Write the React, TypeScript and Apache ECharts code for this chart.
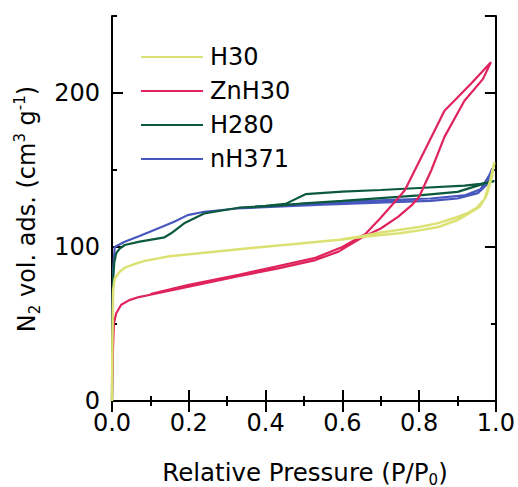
import React, { useEffect, useRef } from "react";
import * as echarts from "echarts";

// ---- Data ----
const H30_ADS_P = [0, 0.001, 0.003, 0.007, 0.02, 0.035, 0.055, 0.085, 0.15, 0.24, 0.35, 0.49, 0.6, 0.65, 0.7, 0.75, 0.8, 0.85, 0.9, 0.93, 0.957, 0.975, 0.99, 0.996];
const H30_ADS_V = [0, 40, 72, 79.5, 84, 86.8, 88.6, 91, 94, 96.3, 99, 102.3, 104.8, 106.5, 107.8, 109, 110.8, 113, 117.5, 121.8, 126, 133, 146, 155];
const H30_DES_P = [0.996, 0.985, 0.97, 0.95, 0.93, 0.9, 0.85, 0.8, 0.75, 0.7, 0.65, 0.6];
const H30_DES_V = [155, 143, 131, 125.5, 122.5, 119.5, 115.5, 113, 111.2, 109.5, 107, 105];

const ZNH30_ADS_P = [0, 0.002, 0.005, 0.011, 0.024, 0.045, 0.07, 0.1, 0.2, 0.33, 0.43, 0.53, 0.59, 0.65, 0.7, 0.745, 0.78, 0.8, 0.832, 0.866, 0.918, 0.966, 0.987];
const ZNH30_ADS_V = [0, 30, 50.5, 57, 62.5, 65.5, 67.5, 69, 74.3, 81, 86, 91.5, 97, 106, 112, 119.6, 127, 132.6, 150, 171.5, 195, 209, 220];
const ZNH30_DES_P = [0.987, 0.935, 0.866, 0.819, 0.763, 0.745, 0.7, 0.66, 0.6, 0.53, 0.43, 0.33, 0.2, 0.1];
const ZNH30_DES_V = [220, 206, 188.5, 165, 137, 131.6, 119, 108.5, 100, 93, 87.5, 82, 75.5, 69.5];

const H280_ADS_P = [0, 0.001, 0.003, 0.006, 0.011, 0.02, 0.033, 0.072, 0.137, 0.154, 0.188, 0.24, 0.33, 0.443, 0.5, 0.6, 0.7, 0.8, 0.9, 0.961, 0.987, 0.996];
const H280_ADS_V = [0, 50, 80, 90, 96, 99, 101.3, 103.5, 106.3, 108.9, 115.4, 121.8, 125.5, 127, 128.3, 130, 131.8, 133.5, 135.8, 140.5, 142.5, 142.8];
const H280_DES_P = [0.996, 0.96, 0.918, 0.8, 0.7, 0.6, 0.504, 0.452, 0.4, 0.33];
const H280_DES_V = [142.8, 141, 139.8, 138.3, 137, 136, 134.3, 128, 126.7, 125.5];

const NH371_ADS_P = [0, 0.001, 0.003, 0.007, 0.033, 0.07, 0.11, 0.162, 0.197, 0.24, 0.326, 0.443, 0.55, 0.659, 0.75, 0.83, 0.9, 0.953, 0.978, 0.991];
const NH371_ADS_V = [0, 50, 85, 100, 103.4, 107, 111, 116.4, 120.7, 122.9, 125, 126.3, 127.5, 128.5, 129.3, 130, 131.5, 135, 141, 151];
const NH371_DES_P = [0.991, 0.983, 0.96, 0.918, 0.83, 0.7, 0.6, 0.5, 0.4, 0.33];
const NH371_DES_V = [151, 146.7, 137.5, 133.5, 131.5, 130.3, 129.3, 128, 126.5, 125.5];

const SERIES_NAMES = ["H30", "ZnH30", "H280", "nH371"];
const X_TICKS = [0, 0.2, 0.4, 0.6, 0.8, 1.0];
const Y_TICKS = [0, 100, 200];

const COLORS: Record<string, string> = {
  H30: "#dbe273",
  ZnH30: "#e0235c",
  H280: "#0c5a3e",
  nH371: "#4757bd",
};

const FONT = "'DejaVu Sans', 'Liberation Sans', Arial, sans-serif";

function loop(ap: number[], av: number[], dp: number[], dv: number[]) {
  const pts: number[][] = [];
  ap.forEach((p, i) => pts.push([p, av[i]]));
  dp.forEach((p, i) => pts.push([p, dv[i]]));
  return pts;
}

export default function App() {
  const ref = useRef<HTMLDivElement>(null);
  useEffect(() => {
    document.body.style.margin = "0";
    const chart = echarts.init(ref.current!, null, { renderer: "svg" });
    const data: Record<string, number[][]> = {
      H30: loop(H30_ADS_P, H30_ADS_V, H30_DES_P, H30_DES_V),
      ZnH30: loop(ZNH30_ADS_P, ZNH30_ADS_V, ZNH30_DES_P, ZNH30_DES_V),
      H280: loop(H280_ADS_P, H280_ADS_V, H280_DES_P, H280_DES_V),
      nH371: loop(NH371_ADS_P, NH371_ADS_V, NH371_DES_P, NH371_DES_V),
    };
    const drawOrder = ["nH371", "H280", "ZnH30", "H30"];
    const axisLine = { show: true, lineStyle: { color: "#000", width: 2 } };
    const xBase = {
      type: "value" as const,
      min: 0,
      max: 1,
      interval: 0.2,
      splitLine: { show: false },
      axisLine,
      axisTick: { show: true, inside: true, length: 11, lineStyle: { color: "#000", width: 2 } },
      minorTick: { show: true, splitNumber: 2, length: 5, lineStyle: { color: "#000", width: 2 } },
      minorSplitLine: { show: false },
    };
    const yBase = (interval: number, len: number, position: "left" | "right", labels: boolean) => ({
      type: "value" as const,
      min: 0,
      max: 250,
      interval,
      position,
      offset: 0,
      splitLine: { show: false },
      axisLine: { ...axisLine, show: interval === 100 },
      axisTick: { show: true, inside: true, length: len, lineStyle: { color: "#000", width: 2 } },
      axisLabel: labels
        ? {
            show: true,
            showMaxLabel: false,
            margin: 12,
            fontSize: 24,
            fontFamily: FONT,
            color: "#000",
            formatter: (v: number) => (Y_TICKS.includes(v) ? String(v) : ""),
          }
        : { show: false },
    });
    chart.setOption({
      animation: false,
      grid: { left: 112, right: 20, top: 16, bottom: 86, containLabel: false },
      legend: {
        data: SERIES_NAMES.map((name) => ({ name, icon: "rect" })),
        orient: "vertical",
        left: 136,
        top: 38,
        itemWidth: 62,
        itemHeight: 2,
        itemGap: 6,
        textStyle: { fontSize: 24, fontFamily: FONT, color: "#000", lineHeight: 28, padding: [0, 0, 0, 2] },
      },
      xAxis: [
        {
          ...xBase,
          position: "bottom",
          axisLabel: {
            show: true,
            margin: 10,
            fontSize: 24,
            fontFamily: FONT,
            color: "#000",
            formatter: (v: number) => {
              const t = X_TICKS.find((x) => Math.abs(x - v) < 1e-9);
              return t === undefined ? "" : t.toFixed(1);
            },
          },
        },
        { ...xBase, position: "top", axisLabel: { show: false } },
      ],
      yAxis: [
        yBase(100, 11, "left", true),
        yBase(50, 5, "left", false),
        yBase(100, 11, "right", false),
        yBase(50, 5, "right", false),
      ],
      graphic: [
        {
          type: "text",
          x: 27,
          y: 209,
          rotation: Math.PI / 2,
          style: {
            text: "N{sub|2} vol. ads. (cm{sup|3} g{sup|-1})",
            fontSize: 24,
            fontFamily: FONT,
            fill: "#000",
            align: "center",
            verticalAlign: "middle",
            lineHeight: 30,
            rich: {
              sub: { fontSize: 15, fontFamily: FONT, fill: "#000", verticalAlign: "bottom", lineHeight: 15 },
              sup: { fontSize: 15, fontFamily: FONT, fill: "#000", verticalAlign: "top", lineHeight: 15 },
            },
          },
        },
        {
          type: "text",
          x: 305,
          y: 472,
          style: {
            text: "Relative Pressure (P/P{sub|0})",
            fontSize: 24.5,
            fontFamily: FONT,
            fill: "#000",
            align: "center",
            verticalAlign: "middle",
            lineHeight: 30,
            rich: {
              sub: { fontSize: 15, fontFamily: FONT, fill: "#000", verticalAlign: "bottom", lineHeight: 15 },
            },
          },
        },
      ],
      series: drawOrder.map((name) => ({
        name,
        type: "line",
        xAxisIndex: 0,
        yAxisIndex: 0,
        data: data[name],
        showSymbol: false,
        symbol: "none",
        smooth: false,
        lineStyle: { color: COLORS[name], width: name === "H30" ? 2.5 : 2.2 },
        itemStyle: { color: COLORS[name] },
      })),
    });
    return () => chart.dispose();
  }, []);
  return <div ref={ref} style={{ width: 518, height: 487 }} />;
}
